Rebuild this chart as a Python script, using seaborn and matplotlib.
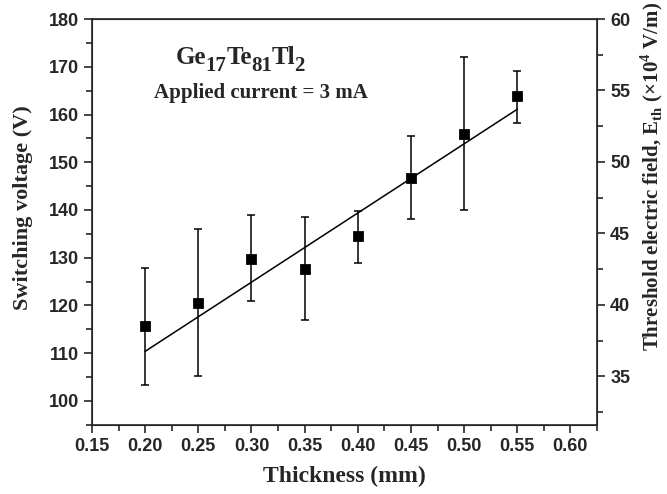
import numpy as np
import pandas as pd
import matplotlib
matplotlib.use("Agg")
import matplotlib.pyplot as plt
from matplotlib.ticker import MultipleLocator
import seaborn as sns

sns.set_style("ticks")
plt.rcParams['font.family'] = ['Liberation Sans', 'DejaVu Sans']
plt.rcParams['mathtext.fontset'] = 'custom'
plt.rcParams['mathtext.rm'] = 'Liberation Serif:bold'
plt.rcParams['mathtext.bf'] = 'Liberation Serif:bold'

# data
thickness = [0.20, 0.25, 0.30, 0.35, 0.40, 0.45, 0.50, 0.55]
voltage = [115.6, 120.6, 129.8, 127.7, 134.5, 146.8, 156.0, 163.8]
err_top = [127.9, 136.1, 138.9, 138.6, 139.8, 155.5, 172.0, 169.2]
err_bot = [103.3, 105.2, 120.9, 116.9, 128.9, 138.1, 140.0, 158.3]
fit_x = [0.20, 0.55]
fit_y = [110.4, 161.1]
x_ticks = [0.15, 0.20, 0.25, 0.30, 0.35, 0.40, 0.45, 0.50, 0.55, 0.60]
y_ticks = [100, 110, 120, 130, 140, 150, 160, 170, 180]
e_ticks = [35, 40, 45, 50, 55, 60]

df = pd.DataFrame({'t': thickness, 'V': voltage})
fit = pd.DataFrame({'t': fit_x, 'V': fit_y})

fig = plt.figure(figsize=(6.67, 4.94), dpi=100)
ax = fig.add_axes([0.138, 0.14, 0.757, 0.8215])

yerr = [np.array(voltage) - np.array(err_bot), np.array(err_top) - np.array(voltage)]
ax.errorbar(thickness, voltage, yerr=yerr, fmt='none', ecolor='black',
            elinewidth=1.1, capsize=3, capthick=1.1, zorder=2)
sns.lineplot(data=fit, x='t', y='V', color='black', linewidth=1.1, ax=ax, zorder=3)
sns.scatterplot(data=df, x='t', y='V', marker='s', color='black', s=50,
                edgecolor='black', ax=ax, zorder=4)

ax.set_xlim(0.15, 0.625)
ax.set_ylim(95, 180)
ax.xaxis.set_minor_locator(MultipleLocator(0.025))
ax.yaxis.set_minor_locator(MultipleLocator(5))
ax.set_xticks(x_ticks)
ax.set_xticklabels([f'{v:.2f}' for v in x_ticks])
ax.set_yticks(y_ticks)

ax.tick_params(which='major', direction='out', length=6, width=1.2, labelsize=13)
ax.tick_params(which='minor', direction='out', length=4, width=1.2)
for lab in ax.get_xticklabels() + ax.get_yticklabels():
    lab.set_fontweight('bold')
for sp in ax.spines.values():
    sp.set_linewidth(1.2)

ax.set_xlabel('Thickness (mm)', family='Liberation Serif', fontweight='bold',
              fontsize=17, labelpad=8)
ax.set_ylabel('Switching voltage (V)', family='Liberation Serif', fontweight='bold',
              fontsize=16)
ax.yaxis.set_label_coords(-0.117, 0.535)

ax2 = ax.twinx()
ax2.set_ylim(31.6, 60)
ax2.yaxis.set_minor_locator(MultipleLocator(2.5))
ax2.set_yticks(e_ticks)
ax2.tick_params(which='major', direction='out', length=6, width=1.2, labelsize=13)
ax2.tick_params(which='minor', direction='out', length=4, width=1.2)
for lab in ax2.get_yticklabels():
    lab.set_fontweight('bold')
ax2.set_ylabel(r'Threshold electric field, E$_{\mathrm{th}}$ ($\times$10$^{4}$ V/m)',
               family='Liberation Serif', fontweight='bold', fontsize=15)
ax2.yaxis.set_label_coords(1.082, 0.613)

# formula text built piece by piece so subscripts stay large
pieces = [('Ge', 18, 0), ('17', 15, -5), ('Te', 18, 5), ('81', 15, -5),
          ('Tl', 18, 5), ('2', 15, -5)]
prev = ax.text(0.166, 0.876, pieces[0][0], transform=ax.transAxes,
               family='Liberation Serif', fontweight='bold', fontsize=pieces[0][1],
               va='bottom', ha='left')
for s, fs, dy in pieces[1:]:
    prev = ax.annotate(s, xy=(1, 0), xycoords=prev, xytext=(-0.4, dy),
                       textcoords='offset points', family='Liberation Serif',
                       fontweight='bold', fontsize=fs, va='bottom', ha='left')

ax.text(0.335, 0.806, 'Applied current = 3 mA', transform=ax.transAxes,
        family='Liberation Serif', fontweight='bold', fontsize=15, ha='center',
        va='baseline')

fig.savefig('out.png', dpi=100)
